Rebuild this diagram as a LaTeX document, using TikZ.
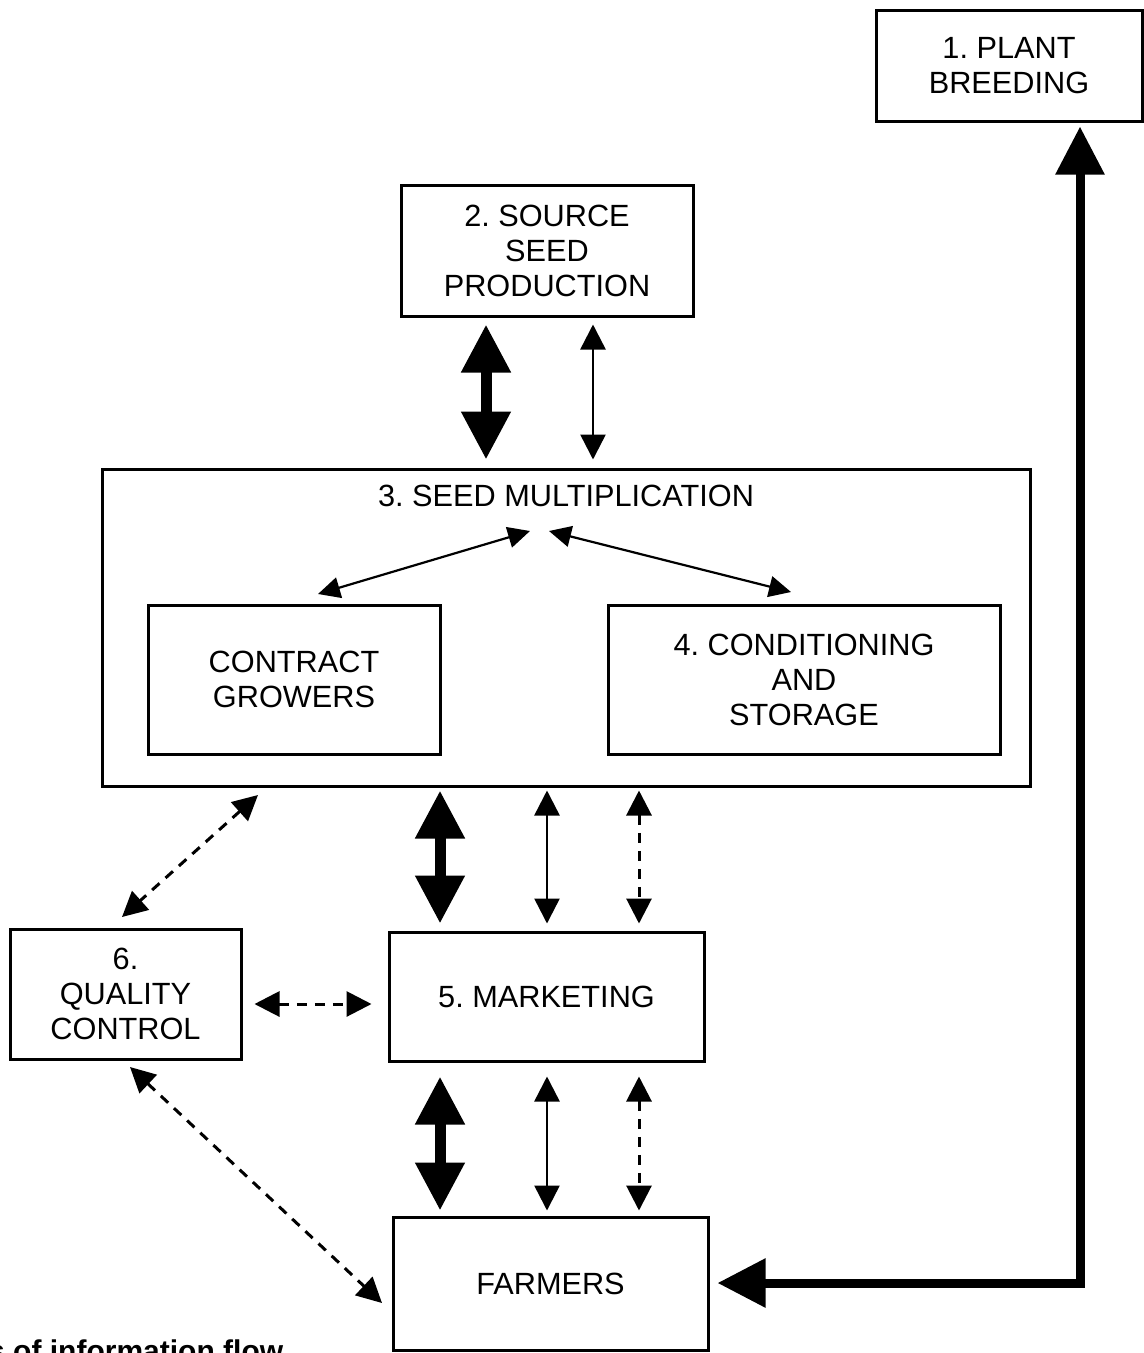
\documentclass[tikz,border=0pt]{standalone}
\usepackage{fontspec}
\setmainfont{Liberation Sans}
\usetikzlibrary{arrows.meta}
\frenchspacing
\begin{document}
\begin{tikzpicture}[x=1pt,y=-1pt,
  box/.style={draw,line width=3pt,inner sep=0pt,align=center,
    font=\fontsize{30.7}{35}\selectfont},
  bigarrow/.style={line width=11pt,
    {Triangle[length=48pt,width=47pt]}-{Triangle[length=48pt,width=47pt]}},
  thinarrow/.style={line width=2.5pt,
    {Triangle[length=25pt,width=25pt]}-{Triangle[length=25pt,width=25pt]}},
  diagarrow/.style={line width=2.2pt,
    {Triangle[length=22pt,width=21pt]}-{Triangle[length=22pt,width=21pt]}},
  dasharrow/.style={line width=3pt,dash pattern=on 10pt off 8pt,
    {Triangle[length=25pt,width=25pt]}-{Triangle[length=25pt,width=25pt]}},
  heavyarrow/.style={line width=9pt,line join=miter,
    {Triangle[length=48pt,width=47pt]}-{Triangle[length=48pt,width=47pt]}}
]
\useasboundingbox (0,0) rectangle (1144,1353);

% boxes
\node[box,minimum width=266pt,minimum height=111pt] (pb) at (1009,65.5) {1. PLANT\\BREEDING};
\node[box,minimum width=292pt,minimum height=131pt] (ss) at (547,250.5) {2. SOURCE\\SEED\\PRODUCTION};
\node[box,minimum width=928pt,minimum height=317pt] (sm) at (566,627.5) {};
\node[inner sep=0pt,font=\fontsize{30.7}{35}\selectfont] (smt) at (566,496) {3. SEED MULTIPLICATION};
\node[box,minimum width=292pt,minimum height=149pt] (cg) at (294,679.5) {CONTRACT\\GROWERS};
\node[box,minimum width=392pt,minimum height=149pt] (cs) at (804,679.5) {4. CONDITIONING\\AND\\STORAGE};
\node[box,minimum width=231pt,minimum height=130pt] (qc) at (125.5,994) {6.\\QUALITY\\CONTROL};
\node[box,minimum width=315pt,minimum height=129pt] (mk) at (546.5,996.5) {5. MARKETING};
\node[box,minimum width=315pt,minimum height=133pt] (fa) at (550.5,1283.5) {FARMERS};

% x positions of vertical connectors
\coordinate (xa) at (486,0);
\coordinate (xb) at (593,0);
\coordinate (xc) at (440,0);
\coordinate (xd) at (547,0);
\coordinate (xe) at (639,0);

% 2 <-> 3
\draw[bigarrow,shorten <=7pt,shorten >=8pt] (ss.south -| xa) -- (sm.north -| xa);
\draw[thinarrow,shorten <=7pt,shorten >=8pt] (ss.south -| xb) -- (sm.north -| xb);

% 3 <-> 5
\draw[bigarrow,shorten <=3pt,shorten >=7pt] (sm.south -| xc) -- (mk.north -| xc);
\draw[thinarrow,shorten <=3pt,shorten >=7pt] (sm.south -| xd) -- (mk.north -| xd);
\draw[dasharrow,shorten <=3pt,shorten >=7pt] (sm.south -| xe) -- (mk.north -| xe);

% 5 <-> farmers
\draw[bigarrow,shorten <=14pt,shorten >=5pt] (mk.south -| xc) -- (fa.north -| xc);
\draw[thinarrow,shorten <=14pt,shorten >=5pt] (mk.south -| xd) -- (fa.north -| xd);
\draw[dasharrow,shorten <=14pt,shorten >=5pt] (mk.south -| xe) -- (fa.north -| xe);

% inside 3
\coordinate (dl1) at (530,531);
\coordinate (dl2) at (318,594);
\coordinate (dr1) at (549,531);
\coordinate (dr2) at (791,592);
\draw[diagarrow] (dl1) -- (dl2);
\draw[diagarrow] (dr1) -- (dr2);

% quality control links
\coordinate (q1) at (258,795);
\coordinate (q2) at (122,917);
\draw[dasharrow] (q1) -- (q2);
\coordinate (yq) at (0,1004);
\draw[dasharrow,shorten <=12pt,shorten >=16pt] (qc.east |- yq) -- (mk.west |- yq);
\coordinate (q3) at (130,1067);
\coordinate (q4) at (382,1303);
\draw[dasharrow] (q3) -- (q4);

% plant breeding feedback
\coordinate (corner) at (1080,1283);
\draw[heavyarrow,shorten <=4pt,shorten >=8pt] (pb.south -| corner) -- (corner) -- (fa.east |- corner);

% caption (cut off at the bottom, as in the reference)
\node[anchor=base west,inner sep=0pt,font=\fontsize{30}{35}\selectfont\bfseries] (cap) at (-12,1361) {s of information flow};
\end{tikzpicture}
\end{document}
